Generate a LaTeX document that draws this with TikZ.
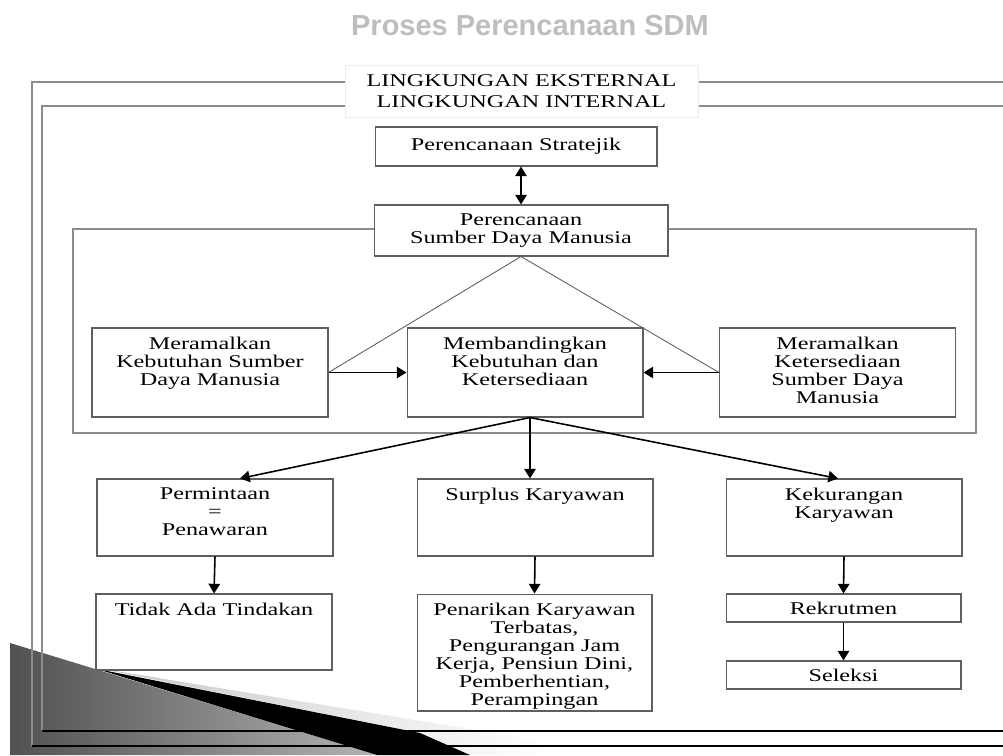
\documentclass[tikz,border=0pt]{standalone}
\usepackage{fontspec}
\usepackage{tikz}
\usetikzlibrary{arrows.meta,calc}
\newfontfamily\kotakfont[FakeStretch=1.35]{Liberation Serif}
\newfontfamily\judulfont{Liberation Sans}
\definecolor{Judul}{RGB}{190,190,190}
\definecolor{Garis}{RGB}{95,95,95}
\definecolor{Bingkai}{RGB}{140,140,140}
\tikzset{
  kotak/.style={draw=Garis, fill=white, line width=0.6pt, inner sep=0pt, align=center, font=\kotakfont\fontsize{10.2}{10.3}\selectfont},
  isi/.style={anchor=north, yshift=-5pt, inner sep=0pt, align=center, font=\kotakfont\fontsize{10.2}{10.3}\selectfont},
  panah/.style={draw=black, line width=0.9pt, ->},
  garis/.style={draw=Garis, line width=0.5pt},
  bingkai/.style={draw=Bingkai, line width=0.8pt}
}

\begin{document}
\begin{tikzpicture}[x=0.02cm, y=-0.02cm, >={Triangle[width=6.5pt,length=5.5pt]}]
\useasboundingbox (0,0) rectangle (1003,755);
\shade[left color=black!68, right color=black!30] (10,643) -- (377,755) -- (10,755) -- cycle;
\shade[left color=black!22, right color=white] (97,668) -- (550,742) -- (550,755) -- (470,755) -- (420,733) -- cycle;
\fill[black] (97,669) -- (420,733) -- (470,755) -- (377,755) -- cycle;
\draw[bingkai] (1003,82) -- (32,82) -- (32,746); \draw[bingkai, draw=black] (32,746) -- (1003,746);
\draw[bingkai] (1003,106) -- (42,106) -- (42,731); \draw[bingkai, draw=black] (42,731) -- (1003,731);
\node[draw=black!8, fill=white, minimum width=7.06cm, minimum height=1.04cm, align=center, font=\kotakfont\fontsize{10.2}{12}\selectfont] (lingkungan) at (521.5,91) {LINGKUNGAN EKSTERNAL\\LINGKUNGAN INTERNAL};
\node[font=\judulfont\bfseries\fontsize{16.5}{18}\selectfont, text=Judul] (judul) at (530,26) {Proses Perencanaan SDM};
\draw[bingkai, line width=0.6pt] (73,229) rectangle (976,433);

\node[kotak, minimum width=5.64cm, minimum height=0.78cm] (strat) at (516,146.5) {Perencanaan Stratejik};
\node[kotak, minimum width=5.88cm, minimum height=1.02cm] (psdm) at (521,230.5) {Perencanaan\\Sumber Daya Manusia};
\node[kotak, minimum width=4.72cm, minimum height=1.78cm, label={[isi]north:Meramalkan\\Kebutuhan Sumber\\Daya Manusia}] (kiri) at (210,372.5) {};
\node[kotak, minimum width=4.72cm, minimum height=1.78cm, label={[isi]north:Membandingkan\\Kebutuhan dan\\Ketersediaan}] (banding) at (525,372.5) {};
\node[kotak, minimum width=4.72cm, minimum height=1.78cm, label={[isi]north:Meramalkan\\Ketersediaan\\Sumber Daya\\Manusia}] (kanan) at (837.5,372.5) {};

\node[kotak, minimum width=4.72cm, minimum height=1.54cm, label={[isi]north:Permintaan\\=\\Penawaran}] (permintaan) at (215,517.5) {};
\node[kotak, minimum width=4.72cm, minimum height=1.54cm, label={[isi]north:Surplus Karyawan}] (surplus) at (535,517.5) {};
\node[kotak, minimum width=4.72cm, minimum height=1.54cm, label={[isi]north:Kekurangan\\Karyawan}] (kekurangan) at (844,517.5) {};
\node[kotak, minimum width=4.72cm, minimum height=1.52cm, label={[isi]north:Tidak Ada Tindakan}] (tidak) at (214,632) {};
\node[kotak, minimum width=4.7cm, minimum height=2.34cm, label={[isi]north:{Penarikan Karyawan\\Terbatas,\\Pengurangan Jam\\Kerja, Pensiun Dini,\\Pemberhentian,\\Perampingan}}] (penarikan) at (534.5,652.5) {};
\node[kotak, minimum width=4.7cm, minimum height=0.56cm] (rekrutmen) at (843.5,608) {Rekrutmen};
\node[kotak, minimum width=4.7cm, minimum height=0.56cm] (seleksi) at (843.5,675) {Seleksi};

\draw[panah, <->] (psdm.north |- strat.south) -- (psdm.north);
\draw[garis] (psdm.south) -- (kiri.east);
\draw[garis] (psdm.south) -- (kanan.west);
\draw[panah] (kiri) -- (banding);
\draw[panah] (kanan) -- (banding);
\coordinate (cabang) at ($(banding.south)+(5,0)$);
\draw[panah] (cabang) -- ($(permintaan.north)+(25,0)$);
\draw[panah] (cabang) -- (cabang |- surplus.north);
\draw[panah] (cabang) -- ($(kekurangan.north)+(-6,0)$);
\draw[panah] (permintaan.south) -- (tidak.north);
\draw[panah] (surplus.south) -- (penarikan.north);
\draw[panah] (kekurangan.south) -- (rekrutmen.north);
\draw[panah] (rekrutmen.south) -- (seleksi.north);
\end{tikzpicture}
\end{document}
